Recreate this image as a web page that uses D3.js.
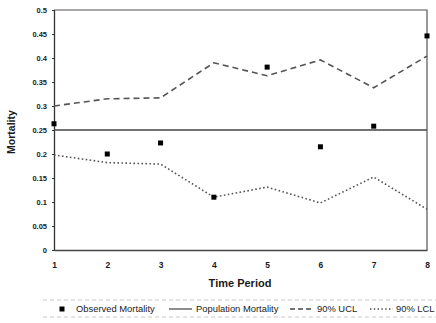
<!DOCTYPE html>
<html>
<head>
<meta charset="utf-8">
<script src="https://cdn.jsdelivr.net/npm/d3@7"></script>
<style>
  html, body { margin: 0; padding: 0; background: #fff; }
  svg { display: block; font-family: Arial, "Liberation Sans", sans-serif; }
</style>
</head>
<body>
<svg id="chart" width="436" height="323"></svg>
<script>
// Mortality by time period with 90% control limits
const periods = [1, 2, 3, 4, 5, 6, 7, 8];
const observed = [0.263, 0.200, 0.223, 0.110, 0.381, 0.215, 0.258, 0.446];
const populationMortality = 0.25;
const ucl = [0.300, 0.315, 0.317, 0.390, 0.363, 0.396, 0.338, 0.404];
const lcl = [0.198, 0.182, 0.179, 0.110, 0.131, 0.098, 0.152, 0.085];
const yTicks = [0, 0.05, 0.1, 0.15, 0.2, 0.25, 0.3, 0.35, 0.4, 0.45, 0.5];
const legendLabels = ["Observed Mortality", "Population Mortality", "90% UCL", "90% LCL"];

const svg = d3.select("#chart");
const plotL = 54, plotR = 427, plotT = 10, plotB = 250;

const x = d3.scaleLinear().domain([1, 8]).range([plotL, plotR]);
const y = d3.scaleLinear().domain([0, 0.5]).range([plotB, plotT]);

const ink = "#1a1a1a";

// plot frame: top and right edges
svg.append("path")
  .attr("d", `M${plotL},${plotT}H${plotR}V${plotB}`)
  .attr("fill", "none").attr("stroke", "#555").attr("stroke-width", 1.2);

// y axis
const yAxis = svg.append("g").attr("transform", `translate(${plotL},0)`)
  .call(d3.axisLeft(y).tickValues(yTicks).tickSize(3).tickSizeOuter(0)
    .tickFormat(d => d === 0 ? "0" : String(+d.toFixed(2))));
yAxis.select(".domain").attr("stroke", "#333").attr("stroke-width", 1.3);
yAxis.selectAll(".tick line").attr("stroke", "#333").attr("x2", 1).attr("x1", -2);
yAxis.selectAll(".tick text").attr("x", -7).attr("fill", ink)
  .style("font-size", "7.5px").style("font-weight", "bold");

// x axis
const xAxis = svg.append("g").attr("transform", `translate(0,${plotB})`)
  .call(d3.axisBottom(x).tickValues(periods).tickSize(0).tickSizeOuter(0).tickFormat(d3.format("d")));
xAxis.select(".domain").attr("stroke", "#444").attr("stroke-width", 1.5);
xAxis.selectAll(".tick text").attr("y", 12).attr("fill", ink)
  .style("font-size", "8.5px").style("font-weight", "bold");

// axis titles
svg.append("text")
  .attr("transform", `translate(15,${(plotT + plotB) / 2 + 2}) rotate(-90)`)
  .attr("text-anchor", "middle").attr("fill", ink)
  .style("font-size", "10.5px").style("font-weight", "bold")
  .text("Mortality");
svg.append("text")
  .attr("x", 240).attr("y", 286.5)
  .attr("text-anchor", "middle").attr("fill", ink)
  .style("font-size", "11px").style("font-weight", "bold")
  .text("Time Period");

// population mortality reference line
svg.append("line")
  .attr("x1", x(1)).attr("x2", x(8))
  .attr("y1", y(populationMortality)).attr("y2", y(populationMortality))
  .attr("stroke", "#444").attr("stroke-width", 1.4);

const line = d3.line().x((d, i) => x(periods[i])).y(d => y(d));

// upper control limit
svg.append("path").datum(ucl).attr("d", line)
  .attr("fill", "none").attr("stroke", "#555").attr("stroke-width", 1.6)
  .attr("stroke-dasharray", "6,4");

// lower control limit
svg.append("path").datum(lcl).attr("d", line)
  .attr("fill", "none").attr("stroke", "#555").attr("stroke-width", 1.6)
  .attr("stroke-dasharray", "1.6,2.4");

// observed mortality points
svg.append("g").selectAll("rect").data(observed).join("rect")
  .attr("x", (d, i) => x(periods[i]) - 2.5)
  .attr("y", d => y(d) - 2.5)
  .attr("width", 5).attr("height", 5)
  .attr("fill", "#000");

// legend
const lg = svg.append("g");
[300, 317].forEach(yy => {
  lg.append("line").attr("x1", 43).attr("x2", 436).attr("y1", yy).attr("y2", yy)
    .attr("stroke", "#bbb").attr("stroke-width", 0.8).attr("stroke-dasharray", "4,3");
});
const ly = 309;
lg.append("rect").attr("x", 59.5).attr("y", ly - 2.5).attr("width", 5).attr("height", 5).attr("fill", "#000");
lg.append("line").attr("x1", 169).attr("x2", 192).attr("y1", ly).attr("y2", ly)
  .attr("stroke", "#444").attr("stroke-width", 1.2);
lg.append("line").attr("x1", 290).attr("x2", 313).attr("y1", ly).attr("y2", ly)
  .attr("stroke", "#444").attr("stroke-width", 1.4).attr("stroke-dasharray", "5,3");
lg.append("line").attr("x1", 370).attr("x2", 393).attr("y1", ly).attr("y2", ly)
  .attr("stroke", "#444").attr("stroke-width", 1.4).attr("stroke-dasharray", "1.4,2.4");
const lx = [76, 196, 317, 396];
lg.selectAll("text.lab").data(legendLabels).join("text")
  .attr("class", "lab")
  .attr("x", (d, i) => lx[i]).attr("y", ly + 3.4)
  .attr("fill", ink)
  .style("font-size", "9.4px")
  .style("font-weight", "500")
  .text(d => d);
</script>
</body>
</html>
